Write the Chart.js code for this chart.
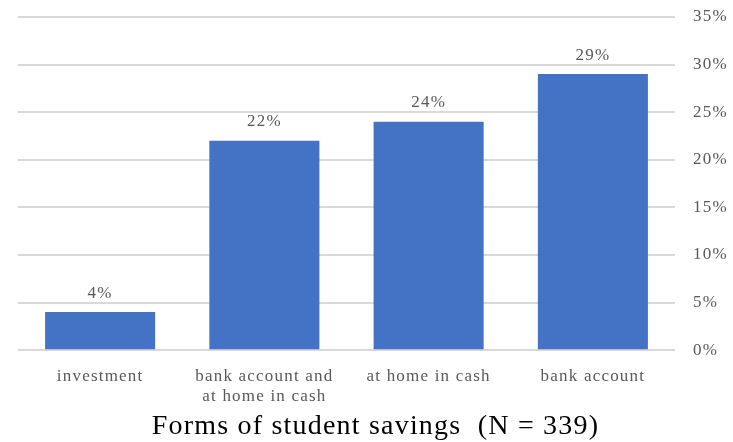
<!DOCTYPE html>
<html lang="en">
<head>
    <meta charset="UTF-8">
    <title>Forms of student savings</title>
    <script src="https://cdn.jsdelivr.net/npm/chart.js@4.4.0/dist/chart.umd.min.js"></script>
    <style>
        body { margin: 0; background: #fff; }
        #chartContainer { width: 733px; height: 442px; }
    </style>
</head>
<body>
<div id="chartContainer">
    <canvas id="myChart"></canvas>
</div>
<script>
    const categories = [['investment'], ['bank account and', 'at home in cash'], ['at home in cash'], ['bank account']];
    const shares = [4, 22, 24, 29];
    const yTicks = [0, 5, 10, 15, 20, 25, 30, 35];

    const serif = '"Liberation Serif", "Times New Roman", serif';

    // the source text is a bit wider than Liberation Serif, so space letters out a little
    const spacing = {
        id: 'spacing',
        beforeUpdate(chart) { chart.ctx.letterSpacing = '1.2px'; },
        beforeDraw(chart) { chart.ctx.letterSpacing = '1.2px'; }
    };

    // labels above each bar
    const barLabels = {
        id: 'barLabels',
        afterDatasetsDraw(chart) {
            const c = chart.ctx;
            const meta = chart.getDatasetMeta(0);
            c.save();
            c.font = '17px ' + serif;
            c.fillStyle = '#595959';
            c.textAlign = 'center';
            c.textBaseline = 'middle';
            meta.data.forEach((bar, i) => {
                c.fillText(shares[i] + '%', bar.x, bar.y - 19);
            });
            c.restore();
        }
    };

    const ctx = document.getElementById('myChart').getContext('2d');
    new Chart(ctx, {
        type: 'bar',
        data: {
            labels: categories,
            datasets: [{
                data: shares,
                backgroundColor: '#4472C4',
                barPercentage: 0.67,
                categoryPercentage: 1.0
            }]
        },
        options: {
            responsive: true,
            maintainAspectRatio: false,
            animation: false,
            layout: {
                padding: { left: 18, right: 0, top: 17, bottom: 0 }
            },
            scales: {
                x: {
                    grid: { display: false },
                    border: { display: false },
                    ticks: {
                        color: '#595959',
                        font: { family: serif, size: 17, lineHeight: 1.2 },
                        maxRotation: 0,
                        padding: 8
                    },
                    afterFit: axis => { axis.height = 61; }
                },
                y: {
                    position: 'right',
                    min: 0,
                    max: 35,
                    afterBuildTicks: axis => {
                        axis.ticks = yTicks.map(v => ({ value: v }));
                    },
                    grid: { color: '#D9D9D9', lineWidth: 2, drawTicks: false },
                    border: { display: false },
                    ticks: {
                        color: '#595959',
                        font: { family: serif, size: 17 },
                        padding: 18,
                        callback: v => v + '%'
                    },
                    afterFit: axis => {
                        axis.width = 58;
                        axis.paddingTop = 0;
                        axis.paddingBottom = 0;
                    }
                }
            },
            plugins: {
                legend: { display: false },
                tooltip: { enabled: false },
                title: {
                    display: true,
                    position: 'bottom',
                    text: 'Forms of student savings  (N = 339)',
                    color: '#000',
                    font: { family: serif, size: 28, weight: 'normal', lineHeight: 1.1 },
                    padding: { top: 0, bottom: 0 }
                }
            }
        },
        plugins: [spacing, barLabels]
    });
</script>
</body>
</html>
